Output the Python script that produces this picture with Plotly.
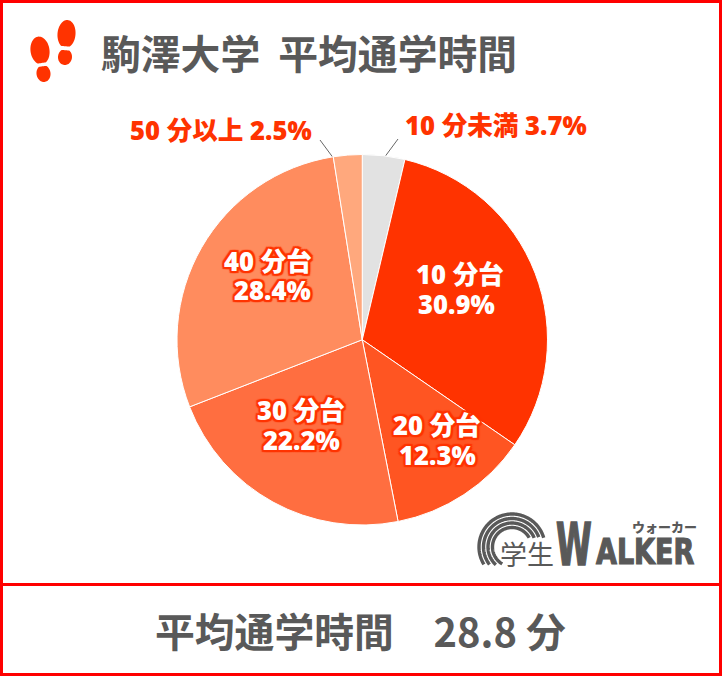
import numpy as np
import plotly.graph_objects as go

W, H = 722, 676
categories = ["10分未満", "10分台", "20分台", "30分台", "40分台", "50分以上"]
shares = [3.7, 30.9, 12.3, 22.2, 28.4, 2.5]
slice_colors = ["#E2E2E2", "#FF3300", "#FF5522", "#FF6E40", "#FF8C5E", "#FFA87D"]
title_text = "駒澤大学  平均通学時間"
footer_text = "平均通学時間　28.8 分"
inner_names = ["10 分台", "20 分台", "30 分台", "40 分台"]
inner_shares = ["30.9%", "12.3%", "22.2%", "28.4%"]
outer_labels = ["10 分未満 3.7%", "50 分以上 2.5%"]

RED = "#FF0000"
ORANGE = "#FF3300"
GRAY = "#595959"
CJK = "Noto Sans CJK JP"
LATIN_CJK = "Open Sans, Noto Sans CJK JP"
LOGO = "DejaVu Sans Condensed"


def px(x):
    return x / W


def py(y):
    return 1 - y / H


def path(points, close=True):
    s = "M" + " L".join(f"{px(a):.5f},{py(b):.5f}" for a, b in points)
    return s + (" Z" if close else "")


def blob(cx, cy, rx, ry, tilt, lo=-1.1, hi=1.1):
    t = np.linspace(0, 2 * np.pi, 60)
    u, v = rx * np.cos(t), ry * np.clip(np.sin(t), lo, hi)
    a = np.radians(tilt)
    return path(list(zip(cx + u * np.cos(a) - v * np.sin(a), cy + u * np.sin(a) + v * np.cos(a))))


def arc(cx, cy, r):
    t = np.radians(np.linspace(0, 240, 120))
    x, y = cx + r * np.cos(t), cy - r * np.sin(t)
    keep = ((x < cx) & (y <= 565)) | ((x >= cx) & (y <= 538))
    return path(list(zip(x[keep], y[keep])), close=False)


shapes = [
    dict(type="rect", xref="paper", yref="paper", x0=px(1.5), x1=px(720.5), y0=py(1.5), y1=py(674.5),
         line=dict(color=RED, width=3)),
    dict(type="line", xref="paper", yref="paper", x0=0, x1=1, y0=py(584.5), y1=py(584.5),
         line=dict(color=RED, width=3)),
]
for spec in [(40, 50.5, 9.5, 14, -8, -1.1, 0.9), (43.5, 73.5, 7, 8.5, -8, -0.85, 1.1),
             (66.5, 34, 9, 14, 5, -1.1, 0.88), (65, 57, 7, 8, 5, -0.85, 1.1)]:
    shapes.append(dict(type="path", xref="paper", yref="paper", path=blob(*spec), fillcolor=ORANGE,
                       line=dict(width=0)))
for r in [33, 28.5, 24, 19.5]:
    shapes.append(dict(type="path", xref="paper", yref="paper", path=arc(512, 547, r),
                       line=dict(color=GRAY, width=3.4)))

outline = ", ".join(f"{a}px {b}px 1px {ORANGE}" for a in (-2, 0, 2) for b in (-2, 0, 2) if a or b)
annotations = []


def note(text, x, y, size, color, family=CJK, weight=700, anchor="center", shadow="none"):
    annotations.append(dict(text=text, x=px(x), y=py(y), xref="paper", yref="paper", xanchor=anchor,
                            yanchor="middle", showarrow=False, align="center",
                            font=dict(family=family, size=size, color=color, weight=weight, shadow=shadow)))


note(title_text, 99, 52, 39.8, GRAY, anchor="left")
note(footer_text, 360, 629, 39.8, GRAY)
note(outer_labels[0], 496, 126, 25.6, ORANGE, family=LATIN_CJK, weight=800)
note(outer_labels[1], 221, 130, 25.6, ORANGE, family=LATIN_CJK, weight=800)
places = [(460, 456, 274, 304), (437, 437, 425, 455), (301, 301, 410, 440), (268, 272, 261, 291)]
shadows = ["none", outline, outline, outline]
for name, share, (x1, x2, y1, y2), sh in zip(inner_names, inner_shares, places, shadows):
    note(name, x1, y1, 25.6, "#FFFFFF", family=LATIN_CJK, weight=800, shadow=sh)
    note(share, x2, y2, 25.6, "#FFFFFF", family=LATIN_CJK, weight=800, shadow=sh)
note("学生", 527, 553, 27, GRAY, weight=400)
note("W", 574, 544, 36, GRAY, family=LOGO, weight=700)
note("ALKER", 645, 551, 30, GRAY, family=LOGO, weight=700)
note("ウォーカー", 664, 526, 13, GRAY, weight=900)

fig = go.Figure(go.Pie(
    labels=categories, values=shares, sort=False, direction="clockwise", rotation=0,
    marker=dict(colors=slice_colors, line=dict(color="#FFFFFF", width=1)),
    textinfo="none", hoverinfo="label+percent", showlegend=False,
    domain=dict(x=[px(177), px(547.5)], y=[py(525), py(154.5)]),
))
fig.add_scatter(x=[px(320), px(337)], y=[py(140), py(163)], mode="lines", line=dict(color="#666666", width=1),
                hoverinfo="skip", showlegend=False)
fig.add_scatter(x=[px(398), px(381)], y=[py(139), py(162)], mode="lines", line=dict(color="#666666", width=1),
                hoverinfo="skip", showlegend=False)
fig.update_layout(width=W, height=H, margin=dict(l=0, r=0, t=0, b=0), paper_bgcolor="#FFFFFF",
                  plot_bgcolor="rgba(0,0,0,0)",
                  xaxis=dict(range=[0, 1], visible=False, fixedrange=True),
                  yaxis=dict(range=[0, 1], visible=False, fixedrange=True),
                  shapes=shapes, annotations=annotations, showlegend=False)
post = """
document.body.style.margin='0';
setTimeout(function(){
  document.querySelectorAll('.annotation-text').forEach(function(t){
    var s = t.textContent, k = s === 'W' ? 1.65 : (s === 'ALKER' ? 1.2 : 0);
    if (k) {
      t.style.transformBox = 'fill-box';
      t.style.transformOrigin = 'center';
      t.style.transform = 'scaleY(' + k + ')';
      t.style.stroke = '#595959';
      t.style.strokeWidth = '1px';
    }
  });
}, 0);
"""
fig.write_html("out.html", config={"displayModeBar": False}, post_script=post)
